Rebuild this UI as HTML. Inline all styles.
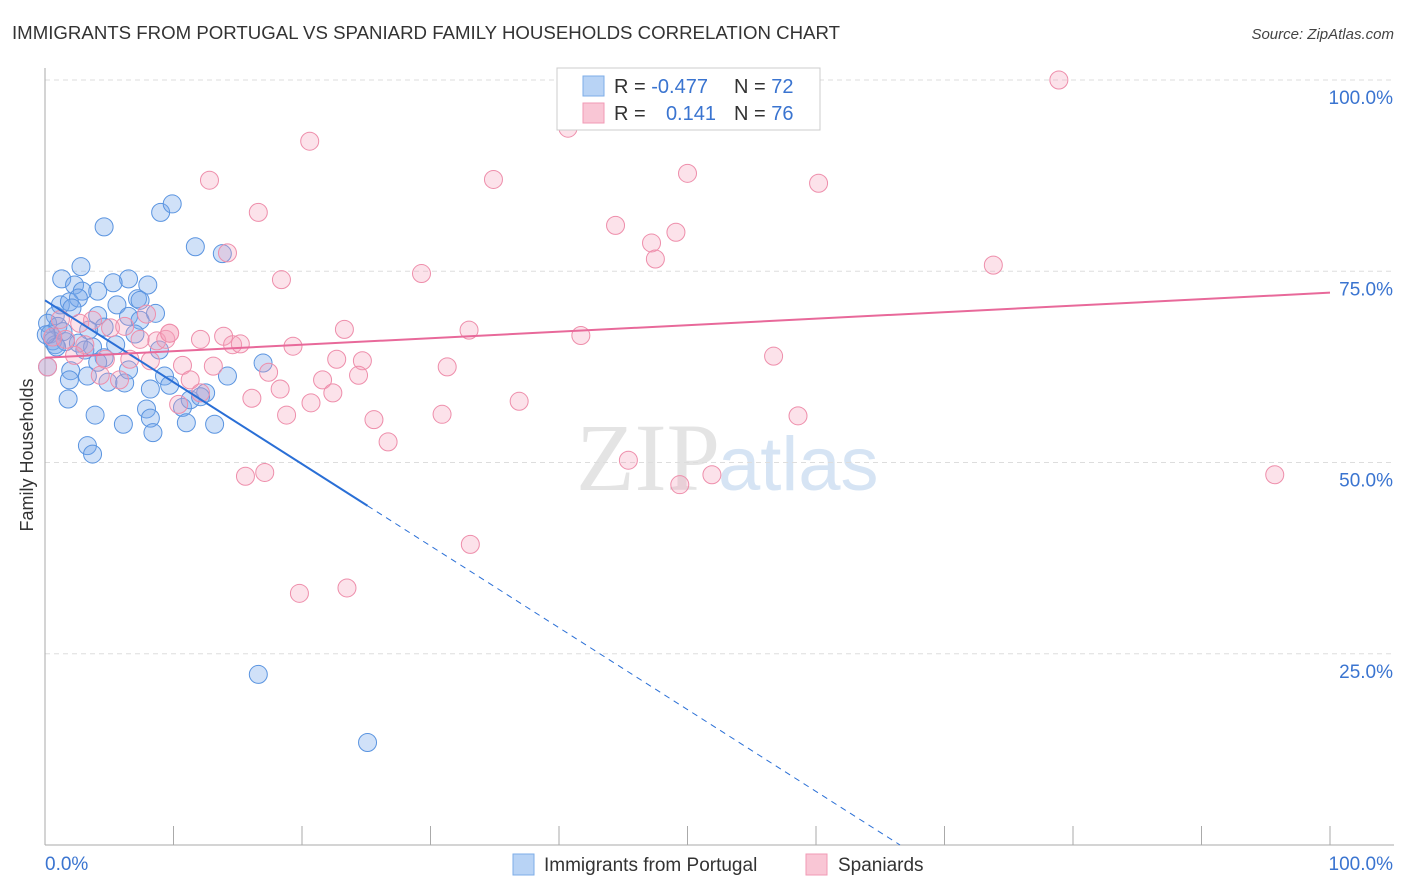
<!DOCTYPE html>
<html><head><meta charset="utf-8"><style>
body{margin:0;background:#fff;font-family:"Liberation Sans",sans-serif;}
svg{display:block}
</style></head><body>
<svg id="c" width="1406" height="892" xmlns="http://www.w3.org/2000/svg">
<text x="12" y="39" font-size="18" fill="#333" textLength="828" lengthAdjust="spacingAndGlyphs">IMMIGRANTS FROM PORTUGAL VS SPANIARD FAMILY HOUSEHOLDS CORRELATION CHART</text>
<text x="1394" y="39" font-size="15" fill="#444" font-style="italic" text-anchor="end">Source: ZipAtlas.com</text>
<text x="720" y="490" font-size="96" fill="#e4e4e4" font-family="Liberation Serif,serif" text-anchor="end">ZIP</text>
<text x="718" y="490" font-size="76" fill="#d6e4f4">atlas</text>
<g id="grid"></g><g id="axes"></g><g id="pts"></g><g id="trend"></g>
<text x="33" y="455" font-size="18" fill="#333" text-anchor="middle" transform="rotate(-90 33 455)">Family Households</text>
<g>
<rect x="557" y="68" width="263" height="62" fill="#fff" stroke="#ccc"/>
<rect x="583" y="76" width="21" height="20" fill="#b8d3f5" stroke="#7eaee8"/>
<rect x="583" y="103" width="21" height="20" fill="#f9c6d5" stroke="#f19ab5"/>
<text x="614" y="93" font-size="20" fill="#333">R = <tspan fill="#3a74d0">-0.477</tspan></text>
<text x="734" y="93" font-size="20" fill="#333">N = <tspan fill="#3a74d0">72</tspan></text>
<text x="614" y="120" font-size="20" fill="#333">R = </text>
<text x="716" y="120" font-size="20" fill="#3a74d0" text-anchor="end">0.141</text>
<text x="734" y="120" font-size="20" fill="#333">N = <tspan fill="#3a74d0">76</tspan></text>
</g>
<g>
<rect x="513" y="854" width="21" height="21" fill="#b8d3f5" stroke="#7eaee8"/>
<text x="544" y="871" font-size="19" fill="#333">Immigrants from Portugal</text>
<rect x="806" y="854" width="21" height="21" fill="#f9c6d5" stroke="#f19ab5"/>
<text x="838" y="871" font-size="19" fill="#333">Spaniards</text>
</g>
</svg>
<script>
const blueX=[4.6,9,9.9,11.7,13.8,2.8,1.3,6.5,2.3,5.3,8,4.1,2.9,1.2,1.9,5.6,7.2,2.6,0.8,4.1,6.5,7.4,8.6,0.2,1,4.6,7,0.4,3.4,0.6,1.6,2.6,3.7,8.9,0.8,0.2,2,4.6,1.9,4.9,6.2,9.3,9.7,14.2,16.97,1.8,3.9,7.9,8.2,10.7,12.5,11,6.1,8.4,13.2,3.3,3.7,16.6,25.1,11.3,12.1,6.5,3.3,1.4,0.9,8.2,5.5,4.1,7.4,0.1,2.1,3.1];
const blueY=[80.8,82.7,83.8,78.2,77.3,75.6,74,74,73.2,73.5,73.2,72.4,72.4,70.6,71,70.6,71.4,71.5,69.2,69.2,69.1,68.6,69.5,68.2,67.8,67.7,66.8,66.8,67.3,65.9,65.8,65.6,65.1,64.7,65.4,62.5,62,63.7,60.8,60.5,60.4,61.3,60.1,61.3,63,58.3,56.2,57,55.8,57.2,59.1,55.2,55,53.9,55,52.2,51.1,22.3,13.4,58.2,58.6,62.1,61.3,67.1,65.1,59.6,65.4,63.1,71.2,66.7,70.2,64.7];
const pinkX=[78.9,40.7,20.6,12.8,34.9,50,60.2,16.6,44.4,49.1,47.2,47.5,14.2,18.4,29.3,73.8,7.9,23.3,41.7,8.7,9.4,13.9,14.6,2.7,1.2,3.7,5.1,9.7,12.1,15.2,19.3,33,56.7,7.4,6.6,8.2,10.7,13.1,17.4,22.7,24.7,31.3,21.6,24.4,11.3,5.8,4.3,18.3,22.4,16.1,10.4,18.8,20.7,25.6,30.9,36.9,58.6,26.7,45.4,49.4,51.9,15.6,17.1,95.7,33.1,19.8,23.5,3.1,1.6,0.6,0.2,4.7,2.3,9.7,12.1,6.2];
const pinkY=[100,93.7,92,86.9,87,87.8,86.5,82.7,81,80.1,78.7,76.6,77.4,73.9,74.7,75.8,69.4,67.4,66.6,65.9,66.1,66.5,65.4,68.2,68.7,68.6,67.6,66.9,66.1,65.5,65.2,67.3,63.9,66.1,63.5,63.3,62.7,62.6,61.8,63.5,63.3,62.5,60.8,61.4,60.8,60.8,61.4,59.6,59.1,58.4,57.6,56.2,57.8,55.6,56.3,58,56.1,52.7,50.3,47.1,48.4,48.2,48.7,48.4,39.3,32.9,33.6,65.4,66.1,66.4,62.5,63.5,64,66.9,59.1,67.8];
const blueTrend=[71.2,-107]; // intercept, slope per 100
const pinkTrend=[63.7,8.5];
const yTicks=[25,50,75,100];
const xTicks=[0,10,20,30,40,50,60,70,80,90,100];
const NS="http://www.w3.org/2000/svg";
const X=v=>45+v*12.85, Y=v=>845-v*7.65;
function mk(t,a,p){const e=document.createElementNS(NS,t);for(const k in a)e.setAttribute(k,a[k]);p.appendChild(e);return e;}
const grid=document.getElementById('grid'),axes=document.getElementById('axes'),pts=document.getElementById('pts'),tr=document.getElementById('trend');
yTicks.forEach(v=>{
  const l=mk('line',{x1:45,x2:1394,y1:Y(v),y2:Y(v),stroke:'#ddd','stroke-dasharray':'5,4'},grid);
  
  
  const t=mk('text',{x:1393,y:Y(v)+24,'font-size':19,fill:'#3a74d0','text-anchor':'end'},axes);
  t.textContent=v.toFixed(1)+'%';
  
  
});
const ya=mk('line',{x1:45,x2:45,y1:68,y2:845,stroke:'#aaa'},axes);


const xa=mk('line',{x1:45,x2:1394,y1:845,y2:845,stroke:'#aaa'},axes);


xTicks.forEach(v=>{
  const l=mk('line',{x1:X(v),x2:X(v),y1:826,y2:845,stroke:'#aaa'},axes);
  
  
});
[[0,'start',45],[100,'end',1393]].forEach(([v,a,x])=>{
  const t=mk('text',{x:x,y:870,'font-size':19,fill:'#3a74d0','text-anchor':a},axes);
  t.textContent=v.toFixed(1)+'%';
  
  
});
blueX.forEach((x,i)=>{
  const c=mk('circle',{cx:X(x),cy:Y(blueY[i]),r:9,fill:'rgba(120,170,235,0.35)',stroke:'#5a94e0','stroke-width':1},pts);
  
  
});
pinkX.forEach((x,i)=>{
  const c=mk('circle',{cx:X(x),cy:Y(pinkY[i]),r:9,fill:'rgba(245,160,185,0.3)',stroke:'#ee8eab','stroke-width':1},pts);
  
  
});
const bf=x=>blueTrend[0]+blueTrend[1]*x/100;
const b1=mk('line',{x1:X(0),y1:Y(bf(0)),x2:X(25.1),y2:Y(bf(25.1)),stroke:'#2a6fd6','stroke-width':2},tr);


const xe=blueTrend[0]/-blueTrend[1]*100;
const b2=mk('line',{x1:X(25.1),y1:Y(bf(25.1)),x2:X(xe),y2:Y(0),stroke:'#2a6fd6','stroke-width':1,'stroke-dasharray':'6,5'},tr);


const pf=x=>pinkTrend[0]+pinkTrend[1]*x/100;
const p1=mk('line',{x1:X(0),y1:Y(pf(0)),x2:X(100),y2:Y(pf(100)),stroke:'#e8699a','stroke-width':2},tr);


</script>
</body></html>
